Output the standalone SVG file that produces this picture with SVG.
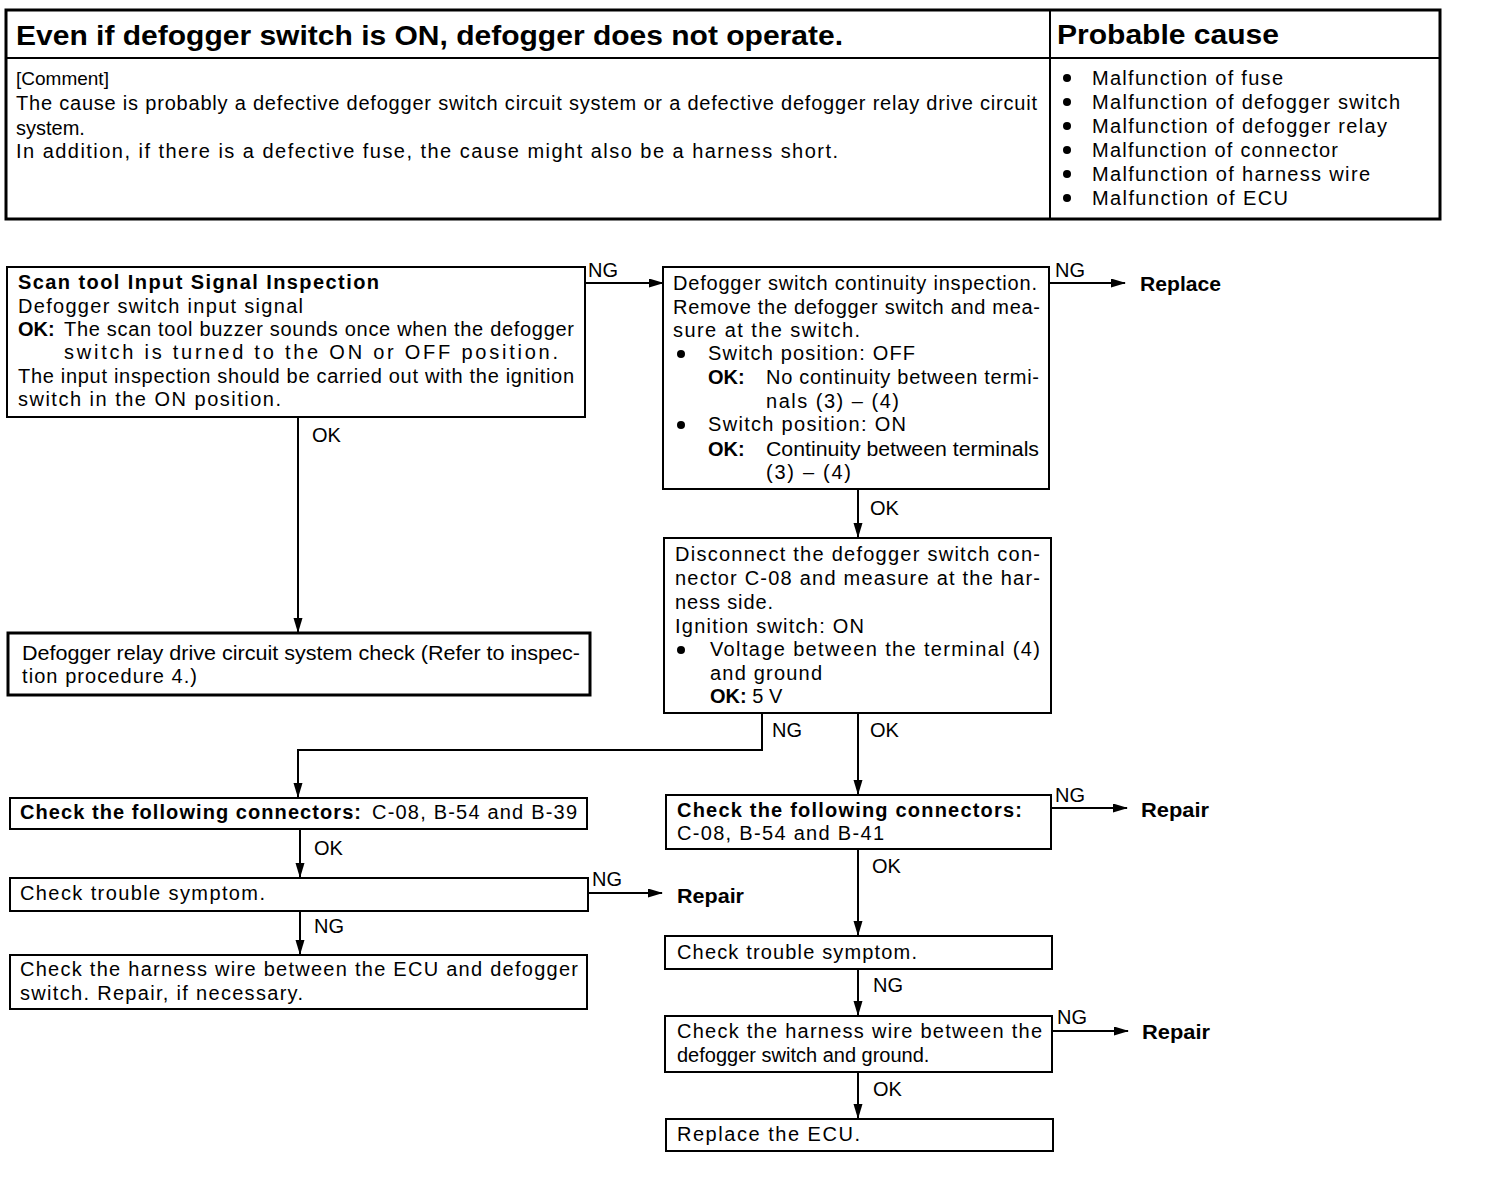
<svg xmlns="http://www.w3.org/2000/svg" width="1504" height="1178" viewBox="0 0 1504 1178">
<style>
text{font-family:"Liberation Sans",Arial,sans-serif;font-size:20px;fill:#000}
.b{font-weight:bold}
.t{font-weight:bold;font-size:27px}
.box{fill:#fff;stroke:#000;stroke-width:2}
.thick{stroke-width:3}
.c{fill:none;stroke:#000;stroke-width:2}
</style>
<defs>
<marker id="ah" markerUnits="userSpaceOnUse" markerWidth="16" markerHeight="10" refX="14" refY="4.5" orient="auto">
<path d="M0,0 L15,4.5 L0,9 z" fill="#000"/>
</marker>
</defs>
<rect width="1504" height="1178" fill="#fff"/>

<g id="header">
<rect x="6" y="10" width="1434" height="209" fill="none" stroke="#000" stroke-width="3"/>
<line x1="6" y1="58" x2="1440" y2="58" stroke="#000" stroke-width="2"/>
<line x1="1050" y1="10" x2="1050" y2="219" stroke="#000" stroke-width="2"/>
<text class="t" x="16" y="45" textLength="827" lengthAdjust="spacingAndGlyphs">Even if defogger switch is ON, defogger does not operate.</text>
<text class="t" x="1057" y="44" textLength="222" lengthAdjust="spacingAndGlyphs">Probable cause</text>
<text x="16" y="85" style="font-size:19px">[Comment]</text>
<text x="16" y="110" textLength="1021" lengthAdjust="spacing">The cause is probably a defective defogger switch circuit system or a defective defogger relay drive circuit</text>
<text x="16" y="135">system.</text>
<text x="16" y="158" textLength="822" lengthAdjust="spacing">In addition, if there is a defective fuse, the cause might also be a harness short.</text>
<g>
<circle cx="1067" cy="78" r="4"/><text x="1092" y="85" textLength="191" lengthAdjust="spacing">Malfunction of fuse</text>
<circle cx="1067" cy="102" r="4"/><text x="1092" y="109" textLength="308" lengthAdjust="spacing">Malfunction of defogger switch</text>
<circle cx="1067" cy="126" r="4"/><text x="1092" y="133" textLength="295" lengthAdjust="spacing">Malfunction of defogger relay</text>
<circle cx="1067" cy="150" r="4"/><text x="1092" y="157" textLength="246" lengthAdjust="spacing">Malfunction of connector</text>
<circle cx="1067" cy="174" r="4"/><text x="1092" y="181" textLength="278" lengthAdjust="spacing">Malfunction of harness wire</text>
<circle cx="1067" cy="198" r="4"/><text x="1092" y="205" textLength="196" lengthAdjust="spacing">Malfunction of ECU</text>
</g>
</g>

<g id="connectors">
<line class="c" x1="585" y1="283" x2="663" y2="283" marker-end="url(#ah)"/>
<line class="c" x1="1049" y1="283" x2="1125" y2="283" marker-end="url(#ah)"/>
<line class="c" x1="298" y1="417" x2="298" y2="632" marker-end="url(#ah)"/>
<line class="c" x1="858" y1="489" x2="858" y2="537" marker-end="url(#ah)"/>
<polyline class="c" points="762,713 762,750 298,750 298,797" marker-end="url(#ah)"/>
<line class="c" x1="858" y1="713" x2="858" y2="794" marker-end="url(#ah)"/>
<line class="c" x1="300" y1="829" x2="300" y2="877" marker-end="url(#ah)"/>
<line class="c" x1="588" y1="893" x2="662" y2="893" marker-end="url(#ah)"/>
<line class="c" x1="300" y1="911" x2="300" y2="954" marker-end="url(#ah)"/>
<line class="c" x1="1051" y1="808" x2="1127" y2="808" marker-end="url(#ah)"/>
<line class="c" x1="858" y1="849" x2="858" y2="935" marker-end="url(#ah)"/>
<line class="c" x1="858" y1="969" x2="858" y2="1015" marker-end="url(#ah)"/>
<line class="c" x1="1052" y1="1031" x2="1128" y2="1031" marker-end="url(#ah)"/>
<line class="c" x1="858" y1="1072" x2="858" y2="1118" marker-end="url(#ah)"/>
<text x="588" y="277">NG</text>
<text x="1055" y="277">NG</text>
<text class="b" x="1140" y="291" textLength="81" lengthAdjust="spacingAndGlyphs">Replace</text>
<text x="312" y="442">OK</text>
<text x="870" y="515">OK</text>
<text x="772" y="737">NG</text>
<text x="870" y="737">OK</text>
<text x="314" y="855">OK</text>
<text x="592" y="886">NG</text>
<text class="b" x="677" y="903" textLength="67" lengthAdjust="spacingAndGlyphs">Repair</text>
<text x="314" y="933">NG</text>
<text x="1055" y="802">NG</text>
<text class="b" x="1141" y="817" textLength="68" lengthAdjust="spacingAndGlyphs">Repair</text>
<text x="872" y="873">OK</text>
<text x="873" y="992">NG</text>
<text x="1057" y="1024">NG</text>
<text class="b" x="1142" y="1039" textLength="68" lengthAdjust="spacingAndGlyphs">Repair</text>
<text x="873" y="1096">OK</text>
</g>

<g id="scanTool">
<rect class="box" x="7" y="267" width="578" height="150"/>
<text class="b" x="18" y="289" textLength="361" lengthAdjust="spacing">Scan tool Input Signal Inspection</text>
<text x="18" y="313" textLength="285" lengthAdjust="spacing">Defogger switch input signal</text>
<text class="b" x="18" y="336">OK:</text>
<text x="64" y="336" textLength="510" lengthAdjust="spacing">The scan tool buzzer sounds once when the defogger</text>
<text x="64" y="359" textLength="494" lengthAdjust="spacing">switch is turned to the ON or OFF position.</text>
<text x="18" y="383" textLength="556" lengthAdjust="spacing">The input inspection should be carried out with the ignition</text>
<text x="18" y="406" textLength="263" lengthAdjust="spacing">switch in the ON position.</text>
</g>

<g id="switchContinuity">
<rect class="box" x="663" y="267" width="386" height="222"/>
<text x="673" y="290" textLength="364" lengthAdjust="spacing">Defogger switch continuity inspection.</text>
<text x="673" y="314" textLength="367" lengthAdjust="spacing">Remove the defogger switch and mea-</text>
<text x="673" y="337" textLength="187" lengthAdjust="spacing">sure at the switch.</text>
<circle cx="681" cy="354" r="4"/>
<text x="708" y="360" textLength="207" lengthAdjust="spacing">Switch position: OFF</text>
<text class="b" x="708" y="384">OK:</text>
<text x="766" y="384" textLength="273" lengthAdjust="spacing">No continuity between termi-</text>
<text x="766" y="408" textLength="133" lengthAdjust="spacing">nals (3) – (4)</text>
<circle cx="681" cy="425" r="4"/>
<text x="708" y="431" textLength="198" lengthAdjust="spacing">Switch position: ON</text>
<text class="b" x="708" y="456">OK:</text>
<text x="766" y="456" textLength="273" lengthAdjust="spacingAndGlyphs">Continuity between terminals</text>
<text x="766" y="479" textLength="85" lengthAdjust="spacing">(3) – (4)</text>
</g>

<g id="relayDrive">
<rect class="box thick" x="8" y="633" width="582" height="62"/>
<text x="22" y="660" textLength="558" lengthAdjust="spacingAndGlyphs">Defogger relay drive circuit system check (Refer to inspec-</text>
<text x="22" y="683" textLength="175" lengthAdjust="spacing">tion procedure 4.)</text>
</g>

<g id="disconnect">
<rect class="box" x="664" y="538" width="387" height="175"/>
<text x="675" y="561" textLength="365" lengthAdjust="spacing">Disconnect the defogger switch con-</text>
<text x="675" y="585" textLength="365" lengthAdjust="spacing">nector C-08 and measure at the har-</text>
<text x="675" y="609" textLength="98" lengthAdjust="spacing">ness side.</text>
<text x="675" y="633" textLength="189" lengthAdjust="spacing">Ignition switch: ON</text>
<circle cx="681" cy="650" r="4"/>
<text x="710" y="656" textLength="330" lengthAdjust="spacing">Voltage between the terminal (4)</text>
<text x="710" y="680" textLength="112" lengthAdjust="spacing">and ground</text>
<text x="710" y="703"><tspan class="b">OK:</tspan> 5 V</text>
</g>

<g id="connectorsLeft">
<rect class="box" x="10" y="798" width="577" height="31"/>
<text class="b" x="20" y="819" textLength="341" lengthAdjust="spacing">Check the following connectors:</text>
<text x="372" y="819" textLength="205" lengthAdjust="spacing">C-08, B-54 and B-39</text>
</g>

<g id="symptomLeft">
<rect class="box" x="10" y="878" width="578" height="33"/>
<text x="20" y="900" textLength="245" lengthAdjust="spacing">Check trouble symptom.</text>
</g>

<g id="harnessEcu">
<rect class="box" x="10" y="955" width="577" height="54"/>
<text x="20" y="976" textLength="558" lengthAdjust="spacing">Check the harness wire between the ECU and defogger</text>
<text x="20" y="1000" textLength="283" lengthAdjust="spacing">switch. Repair, if necessary.</text>
</g>

<g id="connectorsRight">
<rect class="box" x="666" y="795" width="385" height="54"/>
<text class="b" x="677" y="817" textLength="345" lengthAdjust="spacing">Check the following connectors:</text>
<text x="677" y="840" textLength="207" lengthAdjust="spacing">C-08, B-54 and B-41</text>
</g>

<g id="symptomRight">
<rect class="box" x="665" y="936" width="387" height="33"/>
<text x="677" y="959" textLength="240" lengthAdjust="spacing">Check trouble symptom.</text>
</g>

<g id="harnessGround">
<rect class="box" x="665" y="1016" width="387" height="56"/>
<text x="677" y="1038" textLength="365" lengthAdjust="spacing">Check the harness wire between the</text>
<text x="677" y="1062">defogger switch and ground.</text>
</g>

<g id="replaceEcu">
<rect class="box" x="666" y="1119" width="387" height="32"/>
<text x="677" y="1141" textLength="183" lengthAdjust="spacing">Replace the ECU.</text>
</g>
</svg>
